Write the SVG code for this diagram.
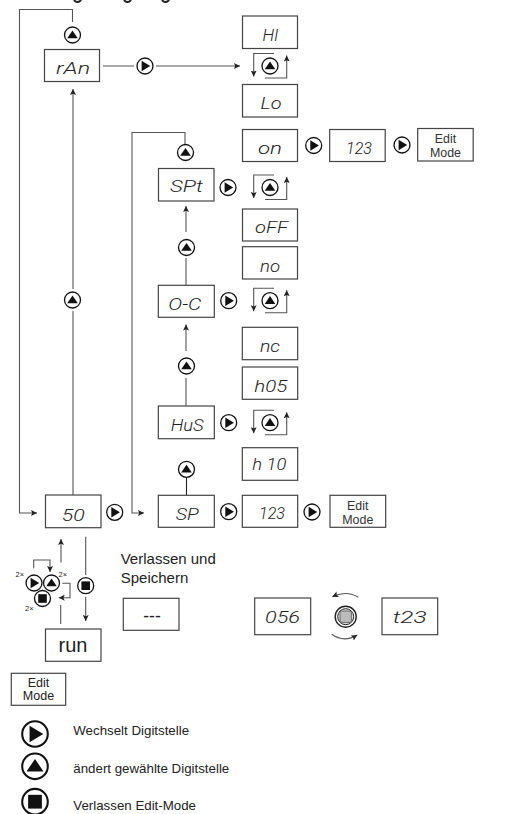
<svg xmlns="http://www.w3.org/2000/svg" xmlns:xlink="http://www.w3.org/1999/xlink" width="526" height="814" viewBox="0 0 526 814">
<style>
.bg{fill:#fff}
.box{fill:#fff;stroke:#444;stroke-width:1.2}
.ln{fill:none;stroke:#555;stroke-width:1.1}
.ar{marker-end:url(#tip)}
.lcd{font-family:"Roboto","Liberation Sans",sans-serif;font-weight:300;font-style:italic;font-size:16.5px;fill:#222}
.sans{font-family:"Liberation Sans",Arial,sans-serif;fill:#222}
.edit{font-family:"Liberation Sans",Arial,sans-serif;font-size:12.4px;fill:#333;text-anchor:middle}
.c{fill:#fff;stroke:#111;stroke-width:1.3}
.g{fill:#111}
</style>
<defs>
<marker id="tip" markerUnits="userSpaceOnUse" markerWidth="7" markerHeight="6" refX="6" refY="3" orient="auto"><path d="M0 0L6 3L0 6L1.2 3Z" fill="#222"/></marker>
<g id="R"><circle class="c" r="8"/><path class="g" d="M-3.4-5.2L5.2 0L-3.4 5.2Z"/></g>
<g id="U"><circle class="c" r="8"/><path class="g" d="M-5.3 3.2L0-4.6L5.3 3.2Z"/></g>
<g id="S"><circle class="c" r="8"/><rect class="g" x="-4.3" y="-4.3" width="8.6" height="8.6"/></g>
<g id="loop"><path class="ln ar" d="M274 -12.5H253.7V10.5"/><path class="ln ar" d="M265 12H286.7V-10.5"/><use href="#U" x="270" y="0"/></g>
</defs>
<rect class="bg" width="526" height="814"/>

<g id="connectors">
<path class="ln" d="M74 -1.5a3.5 3.5 0 0 0 7 0M124 -1.5a3.5 3.5 0 0 0 7 0M162 -1.5a3.5 3.5 0 0 0 7 0" style="stroke:#222;stroke-width:2"/>
<path class="ln ar" d="M72.5 22V9.5H19.5V513H37"/>
<path class="ln ar" d="M103 66H134M156 66H240"/>
<path class="ln ar" d="M73 289V89"/>
<path class="ln" d="M73 311V495"/>
<path class="ln ar" d="M185 145V132.5H132V513H144"/>
<path class="ln ar" d="M186 232V206"/>
<path class="ln" d="M186 258V285"/>
<path class="ln ar" d="M186 351V324.5"/>
<path class="ln" d="M186 378V406"/>
<path class="ln" d="M186.500 477.500V495" style="stroke:#222"/>
<path class="ln ar" d="M61 562.500V539"/>
<path class="ln" d="M60.700 605V624"/>
<path class="ln" d="M85.700 536.700V575"/>
<path class="ln ar" d="M85.700 596.700V621"/>
<path class="ln ar" d="M33.700 568.300V560H50V572"/>
<path class="ln ar" d="M62.300 583.300H70V597.700H58.700"/>
<path class="ln ar" d="M358.300 597.300Q347 590 332.300 596.700"/>
<path class="ln ar" d="M331.700 634.300Q344 643 357.300 635"/>
</g>

<g id="node-ran"><rect class="box" x="44.500" y="49.500" width="55" height="32"/><text class="lcd" x="56" y="74" textLength="34" lengthAdjust="spacingAndGlyphs">rAn</text></g>
<g id="node-hi"><rect class="box" x="242.500" y="16" width="55" height="32.500"/><text class="lcd" x="262.500" y="40.500" textLength="16" lengthAdjust="spacingAndGlyphs">HI</text></g>
<g id="node-lo"><rect class="box" x="242.500" y="84.500" width="55" height="32.500"/><text class="lcd" x="260.500" y="109" textLength="21" lengthAdjust="spacingAndGlyphs">Lo</text></g>
<g id="node-on"><rect class="box" x="242.500" y="129.500" width="55" height="32"/><text class="lcd" x="258" y="154" textLength="24" lengthAdjust="spacingAndGlyphs">on</text></g>
<g id="node-123a"><rect class="box" x="329.700" y="129.500" width="55.500" height="32"/><text class="lcd" x="346" y="153.700" textLength="26" lengthAdjust="spacingAndGlyphs">123</text></g>
<g id="node-edit-a"><rect class="box" x="417.700" y="128.500" width="55.500" height="32.500"/><text class="edit" y="143.300"><tspan x="445.500">Edit</tspan><tspan x="445.500" dy="13.400">Mode</tspan></text></g>
<g id="node-spt"><rect class="box" x="158.500" y="168.500" width="55.500" height="32.500"/><text class="lcd" x="170" y="191.700" textLength="33" lengthAdjust="spacingAndGlyphs">SPt</text></g>
<g id="node-off"><rect class="box" x="242.500" y="209" width="55" height="32"/><text class="lcd" x="255" y="233.300" textLength="33" lengthAdjust="spacingAndGlyphs">oFF</text></g>
<g id="node-no"><rect class="box" x="242.500" y="246.700" width="55" height="32.300"/><text class="lcd" x="260" y="271.700" textLength="20" lengthAdjust="spacingAndGlyphs">no</text></g>
<g id="node-oc"><rect class="box" x="158.300" y="285.300" width="56" height="32"/><text class="lcd" x="168.300" y="310" textLength="33" lengthAdjust="spacingAndGlyphs">O-C</text></g>
<g id="node-nc"><rect class="box" x="242.300" y="327.300" width="55.400" height="32.400"/><text class="lcd" x="260" y="352" textLength="20" lengthAdjust="spacingAndGlyphs">nc</text></g>
<g id="node-h05"><rect class="box" x="242.300" y="367" width="55.400" height="32.300"/><text class="lcd" x="254.300" y="391.700" textLength="33" lengthAdjust="spacingAndGlyphs">h05</text></g>
<g id="node-hus"><rect class="box" x="158.300" y="406" width="56" height="32.700"/><text class="lcd" x="170.700" y="431" textLength="33" lengthAdjust="spacingAndGlyphs">HuS</text></g>
<g id="node-h10"><rect class="box" x="242.300" y="447.700" width="55.400" height="32.600"/><text class="lcd" x="252.300" y="469.500" textLength="34" lengthAdjust="spacingAndGlyphs">h 10</text></g>
<g id="node-sp"><rect class="box" x="158.300" y="495.300" width="56" height="32"/><text class="lcd" x="175.700" y="519.500" textLength="23" lengthAdjust="spacingAndGlyphs">SP</text></g>
<g id="node-123b"><rect class="box" x="242.300" y="495.300" width="55.400" height="32"/><text class="lcd" x="259" y="518.500" textLength="26" lengthAdjust="spacingAndGlyphs">123</text></g>
<g id="node-edit-b"><rect class="box" x="330" y="495.300" width="55.700" height="32"/><text class="edit" y="510"><tspan x="357.800">Edit</tspan><tspan x="357.800" dy="14">Mode</tspan></text></g>
<g id="node-50"><rect class="box" x="45.500" y="495" width="55.500" height="32.700"/><text class="lcd" x="61.700" y="520.500" textLength="23" lengthAdjust="spacingAndGlyphs">50</text></g>
<g id="node-run"><rect class="box" x="45.500" y="629" width="55.500" height="32.300"/><text class="sans" x="73" y="651.700" font-size="20" text-anchor="middle">run</text></g>
<g id="node-dash"><rect class="box" x="123.300" y="598.300" width="55.700" height="32"/><text class="sans" x="152" y="622" font-size="17.500" text-anchor="middle">---</text></g>
<g id="node-056"><rect class="box" x="254.700" y="598" width="56" height="36.700"/><text class="lcd" x="265" y="623.300" textLength="35" lengthAdjust="spacingAndGlyphs">056</text></g>
<g id="node-t23"><rect class="box" x="382" y="598" width="55.700" height="36.700"/><text class="lcd" x="392.700" y="623.300" textLength="34" lengthAdjust="spacingAndGlyphs">t23</text></g>
<g id="node-edit-legend"><rect class="box" x="11.300" y="673.300" width="54.400" height="32"/><text class="sans" font-size="12.500" text-anchor="middle" y="686.700"><tspan x="38.500">Edit</tspan><tspan x="38.500" dy="13.300">Mode</tspan></text></g>

<g id="buttons">
<use href="#U" x="72.500" y="35"/>
<use href="#R" x="145" y="66"/>
<use href="#loop" x="0" y="66"/>
<use href="#R" x="313.700" y="145.500"/>
<use href="#R" x="402" y="145"/>
<use href="#U" x="185.500" y="152.500"/>
<use href="#R" x="228" y="187.500"/>
<use href="#loop" x="0" y="187.500"/>
<use href="#U" x="186.500" y="247.500"/>
<use href="#R" x="228.700" y="300.700"/>
<use href="#loop" x="0" y="300.700"/>
<use href="#U" x="186.500" y="366"/>
<use href="#R" x="228.700" y="422.700"/>
<use href="#loop" x="0" y="422.700"/>
<use href="#U" x="186.500" y="469.300"/>
<use href="#R" x="228.700" y="511.700"/>
<use href="#R" x="312" y="512"/>
<use href="#U" x="72.500" y="300"/>
<use href="#R" x="114.700" y="512.300"/>
<use href="#S" x="85.700" y="585.700"/>
<use href="#R" x="34" y="583"/>
<use href="#U" x="51.500" y="583"/>
<use href="#S" x="42.500" y="598.500"/>
</g>
<g id="labels-2x" class="sans" font-size="7.500">
<text x="15.500" y="577">2×</text><text x="58.500" y="577">2×</text><text x="25" y="610.500">2×</text>
</g>
<g id="knob">
<circle cx="345.700" cy="616.700" r="10.500" fill="#fff" stroke="#222" stroke-width="1.4"/>
<circle cx="345.700" cy="616.700" r="8" fill="#ddd" stroke="#222" stroke-width="1"/>
<rect x="340" y="611" width="11.400" height="11.400" rx="1.500" fill="#bbb" stroke="#555" stroke-width=".8"/>
</g>
<text class="sans" x="120.700" y="564" font-size="15">Verlassen und</text>
<text class="sans" x="120.700" y="583" font-size="15">Speichern</text>

<g id="legend">
<use href="#R" transform="translate(35 734) scale(1.6)"/>
<use href="#U" transform="translate(35 766.300) scale(1.6)"/>
<use href="#S" transform="translate(35 801.700) scale(1.6)"/>
<text class="sans" x="73.300" y="734.700" font-size="13.300">Wechselt Digitstelle</text>
<text class="sans" x="73.300" y="772.700" font-size="13.300">ändert gewählte Digitstelle</text>
<text class="sans" x="73.300" y="810" font-size="13.300">Verlassen Edit-Mode</text>
</g>
</svg>
